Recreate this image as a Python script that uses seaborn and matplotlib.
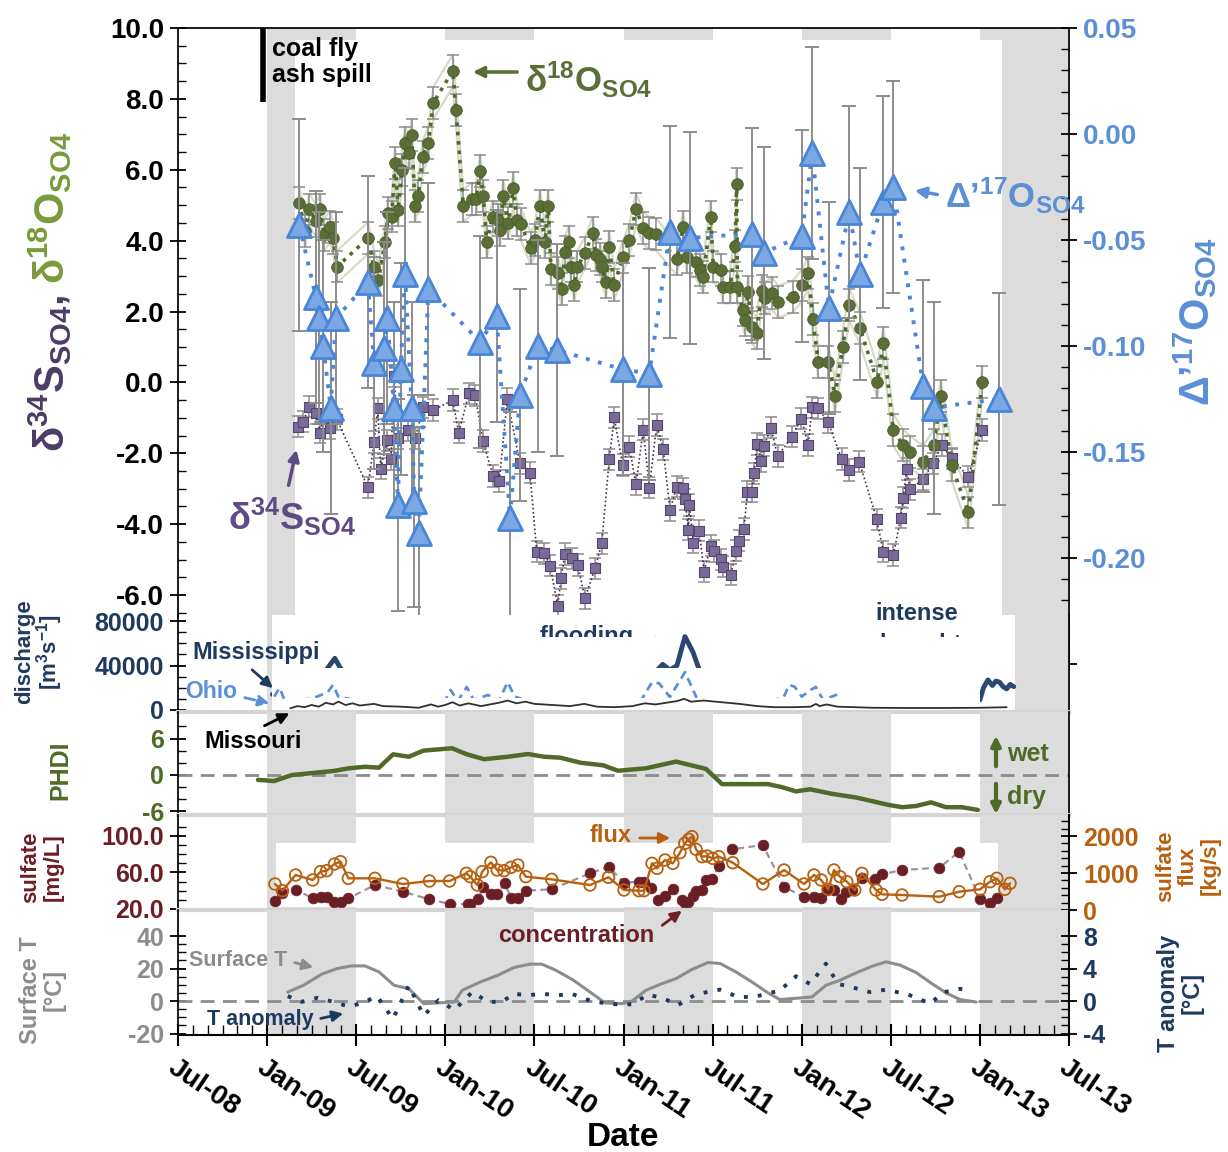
import numpy as np
import matplotlib
matplotlib.use("Agg")
import matplotlib.pyplot as plt
import seaborn as sns
from matplotlib.patches import Rectangle, FancyArrowPatch
from matplotlib.ticker import FixedLocator, FuncFormatter

# =========================
# style
# =========================
sns.set_theme(style="ticks")
plt.rcParams["font.family"] = ["Liberation Sans", "DejaVu Sans"]
plt.rcParams["font.weight"] = "bold"
plt.rcParams["mathtext.fontset"] = "custom"
plt.rcParams["mathtext.rm"] = "Liberation Sans:bold"
plt.rcParams["mathtext.it"] = "Liberation Sans:bold"
plt.rcParams["mathtext.bf"] = "Liberation Sans:bold"
plt.rcParams["mathtext.sf"] = "Liberation Sans:bold"
plt.rcParams["axes.unicode_minus"] = False
for k in ["text.color", "axes.labelcolor", "xtick.color", "ytick.color", "axes.edgecolor"]:
    plt.rcParams[k] = "black"

# =========================
# data (time in decimal years)
# =========================
d18o_t = [2009.181, 2009.213, 2009.237, 2009.274, 2009.297, 2009.319, 2009.353, 2009.371, 2009.394,
          2009.566, 2009.600, 2009.624, 2009.662, 2009.680, 2009.699, 2009.718, 2009.736, 2009.755,
          2009.774, 2009.798, 2009.811, 2009.830, 2009.848, 2009.873, 2009.905, 2009.933, 2010.042,
          2010.060, 2010.101, 2010.148, 2010.172, 2010.195, 2010.213, 2010.232, 2010.266, 2010.297,
          2010.307, 2010.325, 2010.354, 2010.382, 2010.401, 2010.423, 2010.479, 2010.503, 2010.531,
          2010.559, 2010.578, 2010.593, 2010.631, 2010.653, 2010.672, 2010.694, 2010.705, 2010.724,
          2010.741, 2010.784, 2010.827, 2010.846, 2010.868, 2010.878, 2010.902, 2010.920, 2010.948,
          2010.995, 2011.033, 2011.070, 2011.111, 2011.145, 2011.182, 2011.299, 2011.336, 2011.355,
          2011.407, 2011.429, 2011.448, 2011.489, 2011.504, 2011.545, 2011.556, 2011.598, 2011.626,
          2011.635, 2011.639, 2011.669, 2011.682, 2011.700, 2011.719, 2011.747, 2011.776, 2011.794,
          2011.832, 2011.869, 2011.950, 2012.003, 2012.037, 2012.062, 2012.093, 2012.149, 2012.187,
          2012.230, 2012.267, 2012.327, 2012.424, 2012.458, 2012.514, 2012.567, 2012.608, 2012.682,
          2012.742, 2012.780, 2012.842, 2012.935, 2013.014]
d18o_v = [5.07, 4.28, 4.88, 4.56, 4.88, 4.16, 4.39, 4.07, 3.27, 4.07, 3.27, 2.89, 3.97, 4.77, 4.68,
          6.18, 4.86, 5.99, 6.76, 6.48, 6.98, 4.99, 5.27, 6.37, 6.76, 7.89, 8.79, 7.69, 4.99, 5.17,
          5.17, 5.97, 5.27, 3.97, 4.68, 4.58, 4.30, 5.27, 4.49, 5.48, 4.58, 4.47, 3.78, 4.02, 4.99,
          3.97, 4.99, 3.19, 3.08, 2.63, 3.67, 3.97, 3.27, 2.75, 3.27, 3.64, 4.22, 3.59, 3.47, 3.27,
          2.84, 3.83, 2.75, 3.53, 4.02, 4.89, 4.36, 4.21, 4.18, 3.47, 4.38, 3.55, 3.41, 3.17, 2.98,
          4.68, 3.27, 3.17, 2.68, 2.68, 3.85, 5.59, 2.68, 2.04, 1.76, 2.56, 1.57, 1.38, 2.59, 2.37,
          2.51, 2.28, 2.42, 2.75, 3.08, 1.78, 0.58, 0.58, -0.38, 1.01, 2.18, 1.53, 0.02, 1.10, -1.34,
          -1.77, -1.96, -2.24, -1.77, -0.38, -2.33, -3.67, 0.02]
d18o_err = 0.45

d34s_t = [2009.175, 2009.200, 2009.237, 2009.274, 2009.297, 2009.315, 2009.353, 2009.391, 2009.566,
          2009.600, 2009.621, 2009.637, 2009.675, 2009.695, 2009.712, 2009.736, 2009.792, 2009.830,
          2009.877, 2009.933, 2010.042, 2010.075, 2010.133, 2010.168, 2010.210, 2010.269, 2010.303,
          2010.348, 2010.419, 2010.475, 2010.513, 2010.556, 2010.588, 2010.631, 2010.649, 2010.672,
          2010.709, 2010.743, 2010.784, 2010.840, 2010.878, 2010.920, 2010.948, 2010.995, 2011.033,
          2011.070, 2011.111, 2011.145, 2011.186, 2011.223, 2011.261, 2011.299, 2011.332, 2011.345,
          2011.364, 2011.370, 2011.392, 2011.425, 2011.452, 2011.489, 2011.508, 2011.545, 2011.560,
          2011.602, 2011.631, 2011.650, 2011.676, 2011.695, 2011.719, 2011.732, 2011.751, 2011.772,
          2011.788, 2011.828, 2011.865, 2011.946, 2011.998, 2012.037, 2012.058, 2012.093, 2012.149,
          2012.224, 2012.267, 2012.323, 2012.421, 2012.458, 2012.514, 2012.556, 2012.570, 2012.589,
          2012.608, 2012.682, 2012.738, 2012.786, 2012.842, 2012.935, 2013.014]
d34s_v = [-1.25, -1.11, -0.69, -0.87, -1.42, -1.04, -1.30, -1.04, -2.96, -1.68,
          -0.73, -2.43, -1.63, -2.17, 0.18, -1.58, -1.34, -1.58, -0.70, -0.78,
          -0.50, -1.42, -0.31, -0.36, -1.65, -2.64, -2.78, -0.47, -2.28, -2.55,
          -4.78, -4.82, -5.17, -6.30, -5.53, -4.84, -4.96, -5.15, -6.09, -5.25,
          -4.54, -2.17, -0.99, -2.33, -1.81, -2.88, -1.33, -2.97, -1.20, -1.89,
          -3.60, -2.94, -2.99, -3.30, -4.16, -3.46, -4.52, -4.18, -5.34, -4.61,
          -4.76, -4.99, -5.20, -5.43, -4.75, -4.47, -4.14, -3.08, -3.08, -2.57,
          -1.74, -2.22, -1.79, -1.28, -2.08, -1.53, -1.02, -1.77, -0.70, -0.73,
          -1.13, -2.16, -2.47, -2.24, -3.86, -4.78, -4.87, -3.82, -3.25, -2.44,
          -3.02, -2.73, -2.28, -1.77, -2.14, -2.66, -1.34]
d34s_err = 0.3

d17o_t = [2009.181, 2009.274, 2009.291, 2009.315, 2009.357, 2009.385, 2009.566, 2009.600, 2009.656,
          2009.675, 2009.712, 2009.735, 2009.750, 2009.774, 2009.811, 2009.826, 2009.851, 2009.905,
          2010.195, 2010.288, 2010.363, 2010.419, 2010.519, 2010.629, 2010.995, 2011.145, 2011.261,
          2011.373, 2011.719, 2011.788, 2012.000, 2012.059, 2012.152, 2012.267, 2012.327, 2012.458,
          2012.514, 2012.682, 2012.742, 2013.109]
d17o_v = [-0.043, -0.077, -0.087, -0.100, -0.129, -0.087, -0.070, -0.108, -0.101, -0.087, -0.129,
          -0.175, -0.111, -0.066, -0.129, -0.173, -0.188, -0.073, -0.098, -0.086, -0.181, -0.123,
          -0.100, -0.102, -0.111, -0.113, -0.046, -0.049, -0.047, -0.056, -0.048, -0.009, -0.082,
          -0.037, -0.066, -0.032, -0.025, -0.119, -0.129, -0.125]
d17o_err = 0.05

spill_t = 2008.975   # Dec 22, 2008

miss_t = [2009.03, 2009.15, 2009.25, 2009.32, 2009.35, 2009.38, 2009.41, 2009.45, 2009.6, 2009.8,
          2010.0, 2010.2, 2010.35, 2010.5, 2010.7, 2010.9, 2011.05, 2011.15, 2011.19, 2011.22,
          2011.26, 2011.30, 2011.345, 2011.39, 2011.43, 2011.5, 2011.7, 2011.9, 2012.2, 2012.5,
          2012.8, 2013.0, 2013.02, 2013.045, 2013.07, 2013.09, 2013.11, 2013.13, 2013.15, 2013.17, 2013.19]
miss_v = [14000, 22000, 28000, 33000, 40000, 46500, 38000, 30000, 22000, 18000,
          20000, 26000, 30000, 24000, 16000, 13000, 15000, 28000, 36000, 41000,
          36000, 40000, 66000, 52000, 34000, 28000, 19000, 14000, 12000, 8000,
          7000, 9000, 20000, 27000, 22000, 26000, 25000, 21000, 19000, 23000, 21000]

ohio_t = [2009.04, 2009.07, 2009.10, 2009.16, 2009.25, 2009.34, 2009.37, 2009.40, 2009.55, 2009.85,
          2010.00, 2010.03, 2010.07, 2010.12, 2010.16, 2010.24, 2010.30, 2010.35, 2010.39, 2010.50,
          2010.80, 2011.10, 2011.16, 2011.20, 2011.26, 2011.345, 2011.41, 2011.48, 2011.80, 2011.90,
          2011.93, 2011.96, 2012.00, 2012.05, 2012.08, 2012.12, 2012.20, 2012.23, 2012.50, 2012.85, 2012.95]
ohio_v = [12000, 20000, 8000, 9000, 10000, 16000, 22500, 12000, 7000, 6000,
          9000, 18000, 8000, 20700, 9000, 13500, 8000, 25000, 12000, 6000,
          5000, 9000, 25000, 24000, 11700, 34000, 11000, 7000, 6000, 12000,
          22500, 21000, 12000, 18000, 20700, 9000, 14000, 7000, 5000, 6000, 9000]

mo_t = [2009.13, 2009.17, 2009.21, 2009.25, 2009.29, 2009.33, 2009.37, 2009.40, 2009.44, 2009.48,
        2009.52, 2009.60, 2009.65, 2009.75, 2009.85, 2009.92, 2009.96, 2010.00, 2010.04, 2010.08,
        2010.13, 2010.20, 2010.25, 2010.30, 2010.35, 2010.40, 2010.45, 2010.50, 2010.60, 2010.70,
        2010.78, 2010.85, 2010.95, 2011.05, 2011.12, 2011.18, 2011.24, 2011.30, 2011.34, 2011.38,
        2011.45, 2011.55, 2011.65, 2011.75, 2011.85, 2011.95, 2012.05, 2012.08, 2012.10, 2012.14,
        2012.20, 2012.40, 2012.60, 2012.80, 2013.00, 2013.15]
mo_v = [1500, 3500, 2500, 4500, 3000, 6500, 5000, 7500, 4500, 6000,
        4000, 5500, 3500, 3000, 2000, 5000, 3000, 4500, 7000, 4000,
        6000, 3500, 5000, 6500, 8500, 6000, 7500, 5500, 4500, 3500,
        5500, 3000, 2500, 3500, 6000, 5000, 6500, 8000, 10000, 7500,
        8500, 7000, 5500, 3500, 2500, 2500, 3000, 5500, 3500, 5000,
        3000, 2000, 1800, 1800, 2000, 2500]

phdi_t = [2008.949, 2009.039, 2009.140, 2009.280, 2009.370, 2009.460, 2009.549, 2009.628, 2009.707,
          2009.796, 2009.875, 2010.038, 2010.116, 2010.217, 2010.352, 2010.464, 2010.554, 2010.644,
          2010.762, 2010.885, 2010.969, 2011.126, 2011.295, 2011.463, 2011.553, 2011.811, 2011.889,
          2011.968, 2012.047, 2012.170, 2012.305, 2012.484, 2012.563, 2012.641, 2012.726, 2012.810,
          2012.900, 2012.989]
phdi_v = [-0.8, -1.0, 0.0, 0.4, 0.65, 1.1, 1.35, 1.2, 3.4, 3.0, 4.0, 4.4, 3.45, 2.6, 3.0, 3.45,
          3.0, 2.85, 2.0, 1.6, 0.7, 1.1, 2.2, 1.0, -1.5, -1.5, -2.0, -2.7, -2.35, -3.1, -3.7,
          -4.9, -5.3, -5.1, -4.5, -5.3, -5.3, -5.75]

conc_t = [2009.044, 2009.086, 2009.160, 2009.260, 2009.300, 2009.334, 2009.378, 2009.412, 2009.456,
          2009.605, 2009.762, 2009.911, 2010.024, 2010.125, 2010.139, 2010.184, 2010.213, 2010.256,
          2010.290, 2010.334, 2010.369, 2010.407, 2010.452, 2010.597, 2010.812, 2010.916, 2011.003,
          2011.086, 2011.115, 2011.154, 2011.194, 2011.233, 2011.277, 2011.328, 2011.344, 2011.362,
          2011.389, 2011.407, 2011.441, 2011.463, 2011.497, 2011.535, 2011.609, 2011.782, 2011.901,
          2012.013, 2012.069, 2012.109, 2012.143, 2012.181, 2012.222, 2012.249, 2012.282, 2012.338,
          2012.410, 2012.451, 2012.563, 2012.772, 2012.884, 2013.001, 2013.057, 2013.095]
conc_v = [28.8, 37.9, 40.8, 31.7, 32.8, 33.5, 28.0, 27.3, 31.7, 46.3, 39.0, 30.6,
          25.5, 25.2, 25.5, 30.6, 44.4, 36.1, 36.1, 48.2, 31.7, 31.7, 40.1, 41.6, 59.0, 66.3,
          48.8, 49.9, 49.9, 42.7, 29.9, 34.2, 41.5, 29.9, 26.9, 28.0, 34.2, 39.7, 40.8, 51.8,
          52.5, 67.1, 85.4, 90.1, 44.4, 32.8, 32.8, 31.7, 40.8, 40.8, 30.6, 38.2, 40.8, 53.6,
          52.9, 58.0, 62.7, 65.3, 82.7, 30.6, 26.9, 31.7]

flux_t = [2009.044, 2009.086, 2009.160, 2009.256, 2009.300, 2009.334, 2009.378, 2009.412, 2009.456,
          2009.605, 2009.762, 2009.911, 2010.024, 2010.118, 2010.140, 2010.180, 2010.207, 2010.256,
          2010.291, 2010.329, 2010.369, 2010.407, 2010.452, 2010.597, 2010.812, 2010.916, 2011.003,
          2011.086, 2011.115, 2011.160, 2011.188, 2011.233, 2011.277, 2011.317, 2011.344, 2011.366,
          2011.384, 2011.407, 2011.441, 2011.469, 2011.501, 2011.535, 2011.613, 2011.782, 2011.901,
          2012.013, 2012.069, 2012.109, 2012.148, 2012.181, 2012.215, 2012.253, 2012.298, 2012.338,
          2012.417, 2012.451, 2012.563, 2012.772, 2012.884, 2013.001, 2013.057, 2013.095, 2013.140,
          2013.169]
flux_v = [703, 522, 946, 811, 1036, 1063, 1243, 1306, 856, 856, 703, 784,
          784, 991, 901, 676, 1036, 1288, 1081, 1063, 1153, 1216, 901, 829, 676, 883,
          540, 522, 522, 1261, 1126, 1351, 1261, 1550, 1802, 1910, 1982, 1640, 1441, 1459,
          1396, 1441, 1279, 703, 1081,
          703, 946, 811, 559, 1081, 901, 766, 540, 991, 540, 423, 405, 360, 495,
          559, 766, 856, 559, 721]

surf_t = [2009.116, 2009.205, 2009.305, 2009.394, 2009.472, 2009.549, 2009.628, 2009.712, 2009.795,
          2009.879, 2009.951, 2010.051, 2010.095, 2010.196, 2010.296, 2010.385, 2010.474, 2010.541,
          2010.619, 2010.719, 2010.819, 2010.897, 2010.992, 2011.048, 2011.126, 2011.216, 2011.295,
          2011.384, 2011.474, 2011.542, 2011.631, 2011.721, 2011.811, 2011.878, 2012.058, 2012.136,
          2012.215, 2012.305, 2012.395, 2012.473, 2012.552, 2012.641, 2012.731, 2012.810, 2012.888,
          2012.978]
surf_v = [5.5, 9.7, 16.5, 20.0, 21.6, 21.6, 17.9, 9.7, 7.6, -1.6, -1.2, -0.6, 6.6, 11.7, 15.9,
          20.6, 22.7, 22.7, 19.0, 12.8, 5.0, -1.2, -1.6, 0.0, 6.6, 10.7, 13.8, 19.4, 23.7, 23.1,
          17.9, 11.7, 5.0, 0.9, 2.5, 9.7, 12.8, 17.3, 21.4, 24.1, 22.1, 17.6, 10.7, 5.0, 0.9, -0.6]

anom_t = [2009.116, 2009.194, 2009.283, 2009.372, 2009.461, 2009.538, 2009.617, 2009.706, 2009.795,
          2009.879, 2009.962, 2010.051, 2010.151, 2010.240, 2010.318, 2010.385, 2010.463, 2010.541,
          2010.630, 2010.708, 2010.819, 2010.908, 2010.958, 2011.048, 2011.138, 2011.227, 2011.306,
          2011.396, 2011.485, 2011.542, 2011.643, 2011.732, 2011.878, 2011.968, 2012.047, 2012.136,
          2012.204, 2012.282, 2012.383, 2012.473, 2012.597, 2012.720, 2012.799, 2012.888, 2012.956]
anom_v = [0.6, -0.1, 0.4, -0.1, -0.7, -0.2, 0.6, -2.2, 1.9, -1.8, 0.1, -1.1, 1.1, -0.1, -0.1,
          0.9, 0.7, 0.9, 0.7, 0.9, 0.0, -0.3, -0.4, -0.4, 0.8, 0.3, -0.5, 0.7, 1.2, 1.4, 0.5,
          0.5, 1.3, 3.05, 2.1, 4.6, 2.1, 1.7, 1.1, 1.4, 0.8, -0.3, 1.1, 1.5, 1.3]

season_years = [2009, 2010, 2011, 2012, 2013]   # Jan-Jul shading
month_labels = ["Jul-08", "Jan-09", "Jul-09", "Jan-10", "Jul-10", "Jan-11",
                "Jul-11", "Jan-12", "Jul-12", "Jan-13", "Jul-13"]

# =========================
# colours
# =========================
GREEN = "#5b6e35"
PURPLE = "#7a6a98"
BLUE = "#4a86d8"
NAVY = "#1f3a5f"
DRED = "#6b1f24"
ORANGE = "#b8600f"
GREY = "#8c8c8c"
BAND = "#dcdcdc"
DIVIDER = "#d4d4d4"

# =========================
# layout helpers
# =========================
W, H = 1228, 1152
X0, X1 = 178, 1069
fig = plt.figure(figsize=(12.28, 11.52), dpi=100)
fig.patch.set_facecolor("white")


def panel(top, bottom):
    a = fig.add_axes([X0 / W, 1 - bottom / H, (X1 - X0) / W, (bottom - top) / H])
    a.set_facecolor("none")
    return a


def bands(a):
    for yr in season_years:
        a.axvspan(yr, yr + 0.5, color=BAND, lw=0, zorder=0.2)


def fpos(x, y):
    return x / W, 1 - y / H


def ftext(x, y, s, color, size, ha="center", va="center", **kw):
    fig.text(x / W, 1 - y / H, s, color=color, fontsize=size, fontweight="bold",
             ha=ha, va=va, **kw)


def farrow(x0, y0, x1, y1, color, ls="-", lw=2.2, ms=16):
    fig.add_artist(FancyArrowPatch(fpos(x0, y0), fpos(x1, y1), transform=fig.transFigure,
                                   arrowstyle="-|>", mutation_scale=ms, color=color,
                                   lw=lw, linestyle=ls))


def yticks(a, major, minor, fmt, color, size):
    a.yaxis.set_major_locator(FixedLocator(major))
    a.yaxis.set_minor_locator(FixedLocator(minor))
    a.yaxis.set_major_formatter(FuncFormatter(fmt))
    a.tick_params(axis="y", which="major", direction="inout", length=12, width=1.3,
                  labelsize=size, labelcolor=color, pad=4)
    a.tick_params(axis="y", which="minor", direction="in", length=6, width=1)


def no_xticks(a):
    a.tick_params(axis="x", which="both", bottom=False, top=False, labelbottom=False)


def fmt_d17(v, p):
    if v < -0.22:
        return ""
    return f"{round(v, 2) + 0.0:.2f}"


# =========================
# 1) isotopes panel
# =========================
ax = panel(28, 670)
axr = ax.twinx()
bands(ax)
ax.add_patch(Rectangle((2009.157, -8.2), 2013.124 - 2009.157, 9.66 + 8.2,
                       facecolor="white", lw=0, zorder=0.3))

lo = np.array(d18o_v) - d18o_err
hi = np.array(d18o_v) + d18o_err
ax.plot(d18o_t, lo, color="#d6dac6", lw=1.6, zorder=1)
ax.plot(d18o_t, hi, color="#d6dac6", lw=1.6, zorder=1)
ax.errorbar(d18o_t, d18o_v, yerr=d18o_err, fmt="none", ecolor=GREY, elinewidth=1.1,
            capsize=4, capthick=1.1, zorder=1.5)
ax.errorbar(d34s_t, d34s_v, yerr=d34s_err, fmt="none", ecolor=GREY, elinewidth=1.1,
            capsize=4, capthick=1.1, zorder=1.5)
sns.lineplot(x=d34s_t, y=d34s_v, ax=ax, color="#3f3050", lw=1.2, linestyle=(0, (1, 1.5)), zorder=2)
sns.lineplot(x=d18o_t, y=d18o_v, ax=ax, color="#4f6b27", lw=2.6, linestyle=(0, (1, 1.6)), zorder=2.5)
sns.scatterplot(x=d34s_t, y=d34s_v, ax=ax, marker="s", s=48, color=PURPLE,
                edgecolor="#55456f", linewidth=0.8, zorder=3)
sns.scatterplot(x=d18o_t, y=d18o_v, ax=ax, marker="o", s=70, color=GREEN,
                edgecolor="#4a5c2a", linewidth=0.6, zorder=3.5)
ax.plot([spill_t, spill_t], [7.9, 10], color="black", lw=4, solid_capstyle="butt", zorder=4)

axr.errorbar(d17o_t, d17o_v, yerr=d17o_err, fmt="none", ecolor=GREY, elinewidth=1.4,
             capsize=5, capthick=1.4, zorder=1)
sns.lineplot(x=d17o_t, y=d17o_v, ax=axr, color=BLUE, lw=2.8, linestyle=(0, (1, 2.2)), zorder=2)
sns.scatterplot(x=d17o_t, y=d17o_v, ax=axr, marker="^", s=300, color="#7ba7e3",
                edgecolor=BLUE, linewidth=2, zorder=3)

ax.set_ylim(-8.115, 10)
axr.set_ylim(-0.2528, 0.05)
yticks(ax, np.arange(-6, 10.1, 2), np.arange(-6.5, 10.01, 0.5), lambda v, p: f"{v:.1f}", "black", 20)
yticks(axr, np.round(np.arange(-0.25, 0.051, 0.05), 2), np.round(np.arange(-0.25, 0.051, 0.01), 2),
       fmt_d17, "#5b8fd6", 20)
axr.tick_params(axis="y", which="both", right=True, left=False)
ax.spines["left"].set_bounds(-6.6, 10)
for s in ["bottom", "right"]:
    ax.spines[s].set_visible(False)
for s in ["bottom", "left", "top"]:
    axr.spines[s].set_visible(False)
for a in (ax, axr):
    no_xticks(a)
    a.set_xlabel("")
    a.set_ylabel("")

# =========================
# 2) discharge panel
# =========================
axq = panel(615, 712)
bands(axq)
xq0, xq1 = 2009.03, 2013.197
axq.add_patch(Rectangle((xq0, -1800), xq1 - xq0, 90000, facecolor="white", lw=0, zorder=0.3))
axq.text(2010.88, 66500, "flooding \u2192", color=NAVY, fontsize=17, fontweight="bold",
         ha="center", va="center", zorder=0.5, clip_on=False)
axq.text(2012.647, 97000, "intense\ndrought", color=NAVY, fontsize=17, fontweight="bold",
         ha="center", va="top", linespacing=1.45, zorder=0.5, clip_on=False)
axq.add_patch(Rectangle((xq0, -1800), xq1 - xq0, 65600 + 1800, facecolor="white", lw=0, zorder=0.6))
sns.lineplot(x=miss_t, y=miss_v, ax=axq, color="#2c4770", lw=3.5, zorder=0.7)
axq.add_patch(Rectangle((xq0, -1800), 2013.0 - xq0, 37750 + 1800, facecolor="white", lw=0, zorder=0.8))
sns.lineplot(x=ohio_t, y=ohio_v, ax=axq, color="#5b8fd6", lw=2, linestyle=(0, (3, 2)), zorder=0.9)
# lower part of the Ohio trace is masked in the original figure
axq.add_patch(Rectangle((2009.12, -1800), 2013.0 - 2009.12, 11000 + 1800, facecolor="white", lw=0, zorder=0.95))
sns.lineplot(x=mo_t, y=mo_v, ax=axq, color="#303030", lw=1.3, zorder=1.0)
axq.set_ylim(-1798, 85396)
yticks(axq, [0, 40000, 80000], np.arange(0, 80001, 10000), lambda v, p: f"{v:.0f}", NAVY, 18)
axq.spines["top"].set_visible(False)
axq.spines["bottom"].set_color(DIVIDER)
axq.spines["bottom"].set_linewidth(3)
no_xticks(axq)
axq.set_xlabel("")
axq.set_ylabel("")

# =========================
# 3) PHDI panel
# =========================
axp = panel(712, 815)
bands(axp)
axp.axhline(0, color=GREY, lw=2, linestyle=(0, (5, 3)), zorder=1)
sns.lineplot(x=phdi_t, y=phdi_v, ax=axp, color="#4f6b27", lw=3.2, zorder=2)
axp.set_ylim(-6.58, 10.36)
yticks(axp, [-6, 0, 6], np.arange(-6, 8.1, 2), lambda v, p: f"{v:.0f}", "#4f6b27", 18)
axp.spines["top"].set_visible(False)
axp.spines["bottom"].set_color(DIVIDER)
axp.spines["bottom"].set_linewidth(3)
no_xticks(axp)
axp.set_xlabel("")
axp.set_ylabel("")

# =========================
# 4) sulfate panel
# =========================
axs = panel(815, 910)
axf = axs.twinx()
bands(axs)
axs.add_patch(Rectangle((2009.05, 22.2), 2013.1 - 2009.05, 92.3 - 22.2, facecolor="white", lw=0, zorder=0.3))
sns.lineplot(x=conc_t, y=conc_v, ax=axs, color="#a08fa0", lw=1.6, linestyle=(0, (3, 2)), zorder=1)
sns.scatterplot(x=conc_t, y=conc_v, ax=axs, marker="o", s=60, color=DRED,
                edgecolor=DRED, linewidth=0.5, zorder=2)
sns.lineplot(x=flux_t, y=flux_v, ax=axf, color=ORANGE, lw=1.7, zorder=1)
sns.scatterplot(x=flux_t, y=flux_v, ax=axf, marker="o", s=70, facecolor="none",
                edgecolor=ORANGE, linewidth=1.3, zorder=2)
axs.set_ylim(18.9, 123)
axf.set_ylim(0, 2568)
yticks(axs, [20, 60, 100], np.arange(20, 110.1, 10), lambda v, p: f"{v:.1f}", DRED, 18)
yticks(axf, [0, 1000, 2000], np.arange(0, 2401, 200), lambda v, p: f"{v:.0f}", ORANGE, 18)
axs.spines["top"].set_visible(False)
axs.spines["bottom"].set_color(DIVIDER)
axs.spines["bottom"].set_linewidth(3)
for s in ["bottom", "left", "top"]:
    axf.spines[s].set_visible(False)
for a in (axs, axf):
    no_xticks(a)
    a.set_xlabel("")
    a.set_ylabel("")

# =========================
# 5) temperature panel
# =========================
axt = panel(910, 1035)
axa = axt.twinx()
bands(axt)
axt.axhline(0, color=GREY, lw=2, linestyle=(0, (5, 3)), zorder=1)
sns.lineplot(x=surf_t, y=surf_v, ax=axt, color=GREY, lw=2.2, zorder=2)
sns.lineplot(x=anom_t, y=anom_v, ax=axa, color=NAVY, lw=2.8, linestyle=(0, (1, 2.6)), zorder=2)
axt.set_ylim(-20.9, 56.0)
axa.set_ylim(-4.18, 11.2)
yticks(axt, [-20, 0, 20, 40], np.arange(-20, 40.1, 5), lambda v, p: f"{v:.0f}", GREY, 18)
yticks(axa, [-4, 0, 4, 8], np.arange(-4, 8.1, 1), lambda v, p: f"{v:.0f}", NAVY, 18)
axt.spines["top"].set_visible(False)
axt.spines["bottom"].set_linewidth(1.5)
for s in ["bottom", "left", "top"]:
    axa.spines[s].set_visible(False)
axa.tick_params(axis="x", which="both", bottom=False, top=False, labelbottom=False)

axt.xaxis.set_major_locator(FixedLocator(np.arange(2008.5, 2013.51, 0.5)))
axt.xaxis.set_minor_locator(FixedLocator(np.arange(2008.5, 2013.5, 1 / 12)))
axt.set_xticklabels(month_labels)
axt.tick_params(axis="x", which="major", direction="inout", length=16, width=1.5,
                labelsize=20, pad=6)
axt.tick_params(axis="x", which="minor", direction="in", length=7, width=1)
for lbl in axt.get_xticklabels():
    lbl.set_rotation(-34)
    lbl.set_ha("left")
    lbl.set_va("top")
    lbl.set_rotation_mode("anchor")
for a in (axt, axa):
    a.set_xlabel("")
    a.set_ylabel("")

for a in (ax, axr, axq, axp, axs, axf, axt, axa):
    a.set_xlim(2008.5, 2013.5)

# =========================
# labels and annotations
# =========================
ftext(623, 1138, "Date", "black", 24)

ftext(50, 373, "\u03b4$^{34}$S$_{SO4}$,", "#4b3b66", 30, rotation=90)
ftext(50, 208, "\u03b4$^{18}$O$_{SO4}$", "#7a9a3c", 30, rotation=90)
ftext(1195, 322, "\u0394\u2019$^{17}$O$_{SO4}$", "#5b8fd6", 30, rotation=90)

ftext(272, 62, "coal fly\nash spill", "black", 18, ha="left", linespacing=1.15)
ftext(525, 80, "\u03b4$^{18}$O$_{SO4}$", GREEN, 25, ha="left")
farrow(520, 72, 470, 72, GREEN, lw=2.5)
ftext(945, 196, "\u0394\u2019$^{17}$O$_{SO4}$", "#5b8fd6", 25, ha="left")
farrow(940, 195, 912, 190, "#5b8fd6", lw=2.5)
ftext(228, 517, "\u03b4$^{34}$S$_{SO4}$", "#5e4a85", 26, ha="left")
farrow(288, 488, 297, 447, "#5e4a85", lw=2.5)

ftext(40, 652, "discharge\n[m$^{3}$s$^{-1}$]", NAVY, 16, rotation=90, linespacing=0.95)
ftext(256, 653, "Mississippi", NAVY, 17)
farrow(250, 668, 275, 690, NAVY, lw=2)
ftext(211, 692, "Ohio", "#5b8fd6", 16.5)
farrow(242, 697, 272, 704, "#5b8fd6", ls="--", lw=2)
ftext(253, 741, "Missouri", "black", 17)
farrow(262, 727, 292, 712, "black", lw=2)

ftext(60, 770, "PHDI", "#4f6b27", 18, rotation=90)
farrow(996, 769, 996, 733, "#4f6b27", lw=3, ms=14)
farrow(996, 781, 996, 817, "#4f6b27", lw=3, ms=14)
ftext(1007, 754, "wet", "#4f6b27", 18, ha="left")
ftext(1007, 797, "dry", "#4f6b27", 18, ha="left")

ftext(42, 867, "sulfate\n[mg/L]", DRED, 16, rotation=90, linespacing=1.05)
ftext(1188, 866, "sulfate\nflux\n[kg/s]", ORANGE, 16, rotation=90, linespacing=1.05)
ftext(611, 836, "flux", ORANGE, 17)
farrow(637, 838, 673, 838, ORANGE, lw=2)
ftext(576, 936, "concentration", DRED, 17)
farrow(660, 927, 684, 909, DRED, lw=2)

ftext(42, 990, "Surface T\n[\u00b0C]", GREY, 17, rotation=90, linespacing=1.05)
ftext(1180, 993, "T anomaly\n[\u00b0C]", NAVY, 17, rotation=90, linespacing=1.05)
ftext(238, 961, "Surface T", GREY, 15.5)
farrow(292, 962, 316, 968, GREY, lw=2)
ftext(260, 1019, "T anomaly", NAVY, 15.5)
farrow(318, 1019, 346, 1013, NAVY, lw=2)

fig.savefig("out.png", dpi=100, facecolor="white")
